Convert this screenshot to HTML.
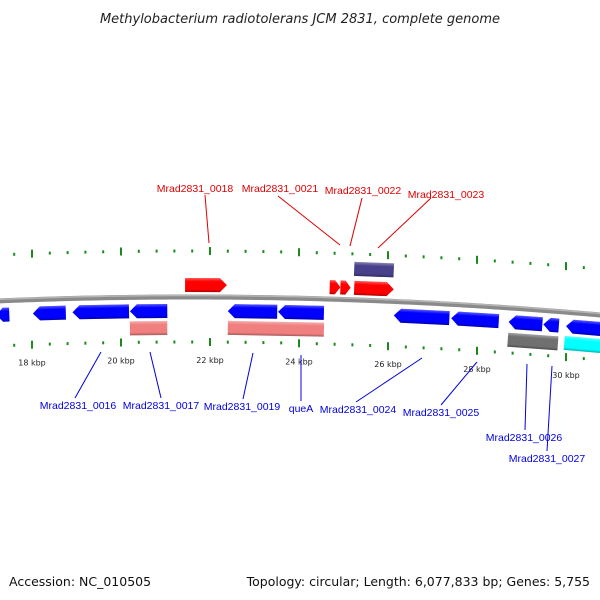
<!DOCTYPE html>
<html><head><meta charset="utf-8"><style>
html,body{margin:0;padding:0;background:#fff;width:600px;height:600px;overflow:hidden}
svg{display:block;font-family:"DejaVu Sans","Liberation Sans",sans-serif}
</style></head><body>
<svg id="map" width="600" height="600" viewBox="0 0 600 600">
<defs>
<linearGradient id="shade" x1="0" y1="0" x2="0" y2="1">
<stop offset="0" stop-color="#fff" stop-opacity="0.35"/>
<stop offset="0.25" stop-color="#fff" stop-opacity="0"/>
<stop offset="0.8" stop-color="#000" stop-opacity="0"/>
<stop offset="1" stop-color="#000" stop-opacity="0.3"/>
</linearGradient>
</defs>
<text x="300" y="23" text-anchor="middle" font-size="13" font-style="italic" fill="#222">Methylobacterium radiotolerans JCM 2831, complete genome</text>
<g id="ticks"></g>
<path id="backbone" fill="none" stroke="#8a8a8a" stroke-width="5"/>
<path id="backbone-hi" fill="none" stroke="#b5b5b5" stroke-width="1.5"/>
<g id="features"></g>
<g id="labels"></g>
<text x="9" y="586" font-size="12.5" fill="#111">Accession: NC_010505</text>
<text x="590" y="586" text-anchor="end" font-size="12.5" fill="#111">Topology: circular; Length: 6,077,833 bp; Genes: 5,755</text>
</svg>
<script>
// data (kbp)
const tickKbp = [16.8,17.2,17.6,18,18.4,18.8,19.2,19.6,20,20.4,20.8,21.2,21.6,22,22.4,22.8,23.2,23.6,24,24.4,24.8,25.2,25.6,26,26.4,26.8,27.2,27.6,28,28.4,28.8,29.2,29.6,30,30.4,30.8];
const tickLabels = ["18 kbp","20 kbp","22 kbp","24 kbp","26 kbp","28 kbp","30 kbp"];
const labelKbp = [18,20,22,24,26,28,30];
const geneStart = [17.2,18.02,18.91,20.2,21.44,22.4,23.53,26.13,27.42,28.71,29.49,30.0,24.69,24.93,25.24,25.24,20.2,22.4,28.69,29.96];
const geneEnd   = [17.49,18.76,20.18,21.04,22.38,23.51,24.56,27.38,28.49,29.47,29.84,30.8,24.93,25.16,26.13,26.13,21.04,24.56,29.82,30.8];
const geneStrand= [-1,-1,-1,-1,1,-1,-1,-1,-1,-1,-1,-1,1,1,1,0,0,0,0,0];
const geneTrack = [14,14,14,14,-12,14,14,14,14,14,14,14,-12,-12,-12,-31,31,31,32,31];
const geneColor = ["#0000ff","#0000ff","#0000ff","#0000ff","#ff0000","#0000ff","#0000ff","#0000ff","#0000ff","#0000ff","#0000ff","#0000ff","#ff0000","#ff0000","#ff0000","#48408a","#f08080","#f08080","#707070","#00ffff"];
const topNames = ["Mrad2831_0018","Mrad2831_0021","Mrad2831_0022","Mrad2831_0023"];
const topPos = [[195,192,205,195,209,243],[280,192,278,196,340,245],[363,194,362,198,350,246],[446,198,431,198,378,248]];
const botNames = ["Mrad2831_0016","Mrad2831_0017","Mrad2831_0019","queA","Mrad2831_0024","Mrad2831_0025","Mrad2831_0026","Mrad2831_0027"];
const botPos = [[78,409,101,352,75,398],[161,409,150,352,161,398],[242,410,253,353,243,399],[301,412,301,355,301,401],[358,413,422,358,356,402],[441,416,477,362,441,405],[524,441,527,364,525,430],[547,462,552,366,547,451]];

const NS="http://www.w3.org/2000/svg";
const X = k => 121 + (k-20)*44.5;
const curve = x => 297 + 1.07e-4*(x-190)*(x-190);
const slope = x => 2*1.07e-4*(x-190);
function mk(tag, attrs, parent){const e=document.createElementNS(NS,tag);for(const a in attrs)e.setAttribute(a,attrs[a]);parent.appendChild(e);return e;}

let d="";for(let x=-5;x<=605;x+=5)d+=(x<0?"M":"L")+x+","+curve(x).toFixed(2);
document.getElementById("backbone").setAttribute("d",d);
let d2="";for(let x=-5;x<=605;x+=5)d2+=(x<0?"M":"L")+x+","+(curve(x)-1.5).toFixed(2);
document.getElementById("backbone-hi").setAttribute("d",d2);

const tg=document.getElementById("ticks");
tickKbp.forEach(k=>{
  const x=X(k);const major=Math.abs(k/2-Math.round(k/2))<0.01;
  const h=major?8:3;
  [-46,45].forEach(off=>{
    const y=curve(x)+off;
    const l=mk("line",{x1:x,y1:y-h/2,x2:x,y2:y+h/2,stroke:"#1a8a1a","stroke-width":2},tg);
    
    
  });
});
labelKbp.forEach((k,i)=>{
  const x=X(k);
  const t=mk("text",{x:x,y:curve(x)+66,"text-anchor":"middle","font-size":"8","fill":"#222"},tg);
  t.textContent=tickLabels[i];
  
  
});

const fg=document.getElementById("features");
geneStart.forEach((s,i)=>{
  const x1=X(s),x2=X(geneEnd[i]),xc=(x1+x2)/2,yc=curve(xc)+geneTrack[i];
  const h=14,a=Math.min(7,(x2-x1)*0.5);
  let pts;
  if(geneStrand[i]===1)pts=[[x1,yc-h/2],[x2-a,yc-h/2],[x2,yc],[x2-a,yc+h/2],[x1,yc+h/2]];
  else if(geneStrand[i]===-1)pts=[[x1+a,yc-h/2],[x2,yc-h/2],[x2,yc+h/2],[x1+a,yc+h/2],[x1,yc]];
  else pts=[[x1,yc-h/2],[x2,yc-h/2],[x2,yc+h/2],[x1,yc+h/2]];
  const ang=Math.atan(slope(xc))*180/Math.PI;
  const g=mk("g",{transform:`rotate(${ang.toFixed(2)} ${xc} ${yc})`},fg);
  
  
  const p=pts.map(q=>q.join(",")).join(" ");
  mk("polygon",{points:p,fill:geneColor[i]},g);
  mk("polygon",{points:p,fill:"url(#shade)"},g);
});

const lg=document.getElementById("labels");
function lab(names,pos,color){
  names.forEach((n,i)=>{
    const q=pos[i];
    const l=mk("line",{x1:q[2],y1:q[3],x2:q[4],y2:q[5],stroke:color,"stroke-width":1},lg);
    
    
    const t=mk("text",{x:q[0],y:q[1],"text-anchor":"middle","font-size":"10.5","font-family":"Liberation Sans, sans-serif",fill:color},lg);
    t.textContent=n;
    
    
  });
}
lab(topNames,topPos,"#e00000");
lab(botNames,botPos,"#0000e0");
</script>
</body></html>
